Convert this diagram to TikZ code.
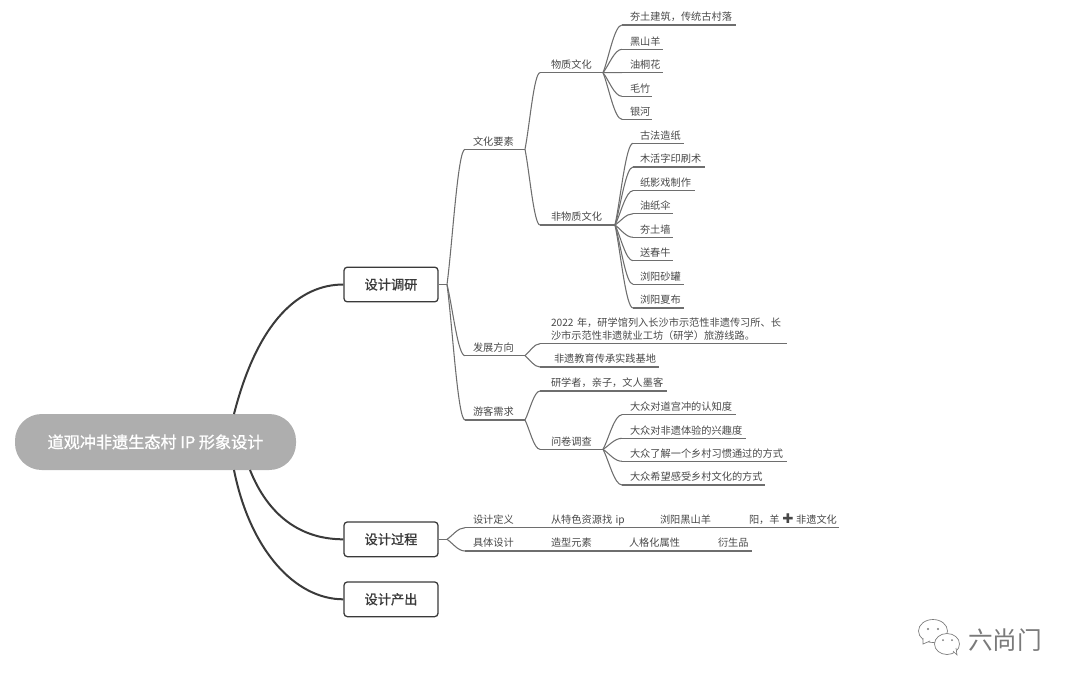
\documentclass[tikz,border=0pt]{standalone}
\usepackage{fontspec}
\setmainfont{Noto Sans CJK SC}
\newfontfamily\symfont{DejaVu Sans}
\newfontfamily\medfont[FakeBold=1.2]{Noto Sans CJK SC}
\usetikzlibrary{calc}
\definecolor{inkc}{HTML}{484848}
\definecolor{linec}{HTML}{6E6E6E}
\definecolor{darkc}{HTML}{3A3A3A}
\definecolor{rootc}{HTML}{AEAEAE}
\definecolor{markc}{HTML}{7A7A7A}
\tikzset{
  topic/.style 2 args={anchor=south west,inner sep=0pt,outer sep=0pt,
    text depth=0pt,text=inkc,font=\fontsize{7.65pt}{9.75pt}\selectfont,align=left,
    text width={#1*0.75pt},
    inner ysep=3.2pt,
    execute at begin node={\hspace*{\dimexpr #2pt*3/4\relax}},
  },
  branch/.style={draw=linec,line width=0.8pt},
  curved/.style={branch,to path={.. controls ($(\tikztostart)!0.3!(\tikztotarget)$) and ($(\tikztostart |- \tikztotarget)!0.6!(\tikztotarget)$) .. (\tikztotarget)}},
  mainbox/.style={draw=darkc,line width=0.95pt,rounded corners=2.5pt,fill=white,
    minimum width=70.5pt,minimum height=26pt,inner sep=0pt,text=darkc,
    font=\fontsize{9.9pt}{12pt}\medfont},
  rootnode/.style={fill=rootc,rounded corners=20pt,minimum width=210.75pt,minimum height=42pt,
    inner sep=0pt,text=white,font=\fontsize{12.1pt}{14pt}\medfont},
  thick branch/.style={draw=darkc,line width=1.5pt},
  wechat/.style={draw=markc,line width=0.5pt,fill=white},
}
\begin{document}
\begin{tikzpicture}[x=0.75pt,y=-0.75pt]
\useasboundingbox (0,0) rectangle (1079,687);
% root and main boxes
\node[rootnode] (root) at (155.5,442) {道观冲非遗生态村 IP 形象设计};
\node[mainbox] (d1) at (391,284.5) {设计调研};
\node[mainbox] (d2) at (391,539.3) {设计过程};
\node[mainbox] (d3) at (391,599.3) {设计产出};
\coordinate (r1) at (234,414);
\coordinate (r2) at (250,470);
\coordinate (r3) at (234,470);
\draw[thick branch] (r1) .. controls (258,320) and (300,284.5) .. (d1.west);
\draw[thick branch] (r2) .. controls (268,515) and (300,539.3) .. (d2.west);
\draw[thick branch] (r3) .. controls (250,550) and (295,599.3) .. (d3.west);
\coordinate (j1) at (447,284.5);
\coordinate (j2) at (447,539.3);
\draw[branch] (d1.east) -- (j1);
\draw[branch] (d2.east) -- (j2);
% level 2 under d1
\node[topic={60}{8}] (a1) at (465,149.3) {文化要素};
\node[topic={60}{8}] (a2) at (465,355.7) {发展方向};
\node[topic={60}{8}] (a3) at (465,420) {游客需求};
% culture
\node[topic={63}{11}] (b1) at (540,72.7) {物质文化};
\node[topic={75}{11}] (b2) at (540,225) {非物质文化};
\node[topic={114}{8}] (c1) at (622,25) {夯土建筑，传统古村落};
\node[topic={41}{8}] (c2) at (622,49.3) {黑山羊};
\node[topic={41}{8}] (c3) at (622,72.7) {油桐花};
\node[topic={30}{8}] (c4) at (622,96.3) {毛竹};
\node[topic={30}{8}] (c5) at (622,119.3) {银河};
\node[topic={51}{7}] (e1) at (633,143.3) {古法造纸};
\node[topic={72}{7}] (e2) at (633,167) {木活字印刷术};
\node[topic={62}{7}] (e3) at (633,190.7) {纸影戏制作};
\node[topic={40}{7}] (e4) at (633,213.7) {油纸伞};
\node[topic={40}{7}] (e5) at (633,237.3) {夯土墙};
\node[topic={40}{7}] (e6) at (633,260.7) {送春牛};
\node[topic={51}{7}] (e7) at (633,284.3) {浏阳砂罐};
\node[topic={51}{7}] (e8) at (633,308) {浏阳夏布};
% direction
\node[topic={247}{11},text depth=9.75pt] (f1) at (540,343.7) {2022 年，研学馆列入长沙市示范性非遗传习所、长\\\hspace*{8.25pt}沙市示范性非遗就业工坊（研学）旅游线路。};
\node[topic={119}{14}] (f2) at (540,367) {非遗教育传承实践基地};
% visitors
\node[topic={127}{11}] (g1) at (540,391) {研学者，亲子，文人墨客};
\node[topic={63}{11}] (g2) at (540,449.3) {问卷调查};
\node[topic={114}{8}] (h1) at (622,414.7) {大众对道宫冲的认知度};
\node[topic={124}{8}] (h2) at (622,438.3) {大众对非遗体验的兴趣度};
\node[topic={165}{8}] (h3) at (622,461.3) {大众了解一个乡村习惯通过的方式};
\node[topic={143}{8}] (h4) at (622,485) {大众希望感受乡村文化的方式};
% design process rows
\node[topic={75}{8}] (p1) at (465,527.7) {设计定义};
\node[topic={109}{11}] (p2) at (540,527.7) {从特色资源找 ip};
\node[topic={89}{11}] (p3) at (649,527.7) {浏阳黑山羊};
\node[topic={101}{11}] (p4) at (738,527.7) {阳，羊\hspace{2pt}{\symfont\fontsize{10pt}{10pt}\selectfont ✚}\hspace{2pt}非遗文化};
\node[topic={75}{8}] (q1) at (465,551) {具体设计};
\node[topic={78}{11}] (q2) at (540,551) {造型元素};
\node[topic={89}{11}] (q3) at (618,551) {人格化属性};
\node[topic={45}{11}] (q4) at (707,551) {衍生品};
% underlines
\foreach \n in {a1,a2,a3,b1,b2,c1,c2,c3,c4,c5,e1,e2,e3,e4,e5,e6,e7,e8,f1,f2,g1,g2,h1,h2,h3,h4}
  \draw[branch] (\n.south west) -- (\n.south east);
\draw[branch] (p1.south west) -- (p2.south west) -- (p3.south west) -- (p4.south west) -- (p4.south east);
\draw[branch] (q1.south west) -- (q2.south west) -- (q3.south west) -- (q4.south west) -- (q4.south east);
% connectors
\foreach \n in {a1,a2,a3} \draw[curved] (j1) to (\n.south west);
\foreach \n in {b1,b2} \draw[curved] (a1.south east) to (\n.south west);
\foreach \n in {c1,c2,c3,c4,c5} \draw[curved] (b1.south east) to (\n.south west);
\foreach \n in {e1,e2,e3,e4,e5,e6,e7,e8} \draw[curved] (b2.south east) to (\n.south west);
\foreach \n in {f1,f2} \draw[curved] (a2.south east) to (\n.south west);
\foreach \n in {g1,g2} \draw[curved] (a3.south east) to (\n.south west);
\foreach \n in {h1,h2,h3,h4} \draw[curved] (g2.south east) to (\n.south west);
\foreach \n in {p1,q1} \draw[curved] (j2) to (\n.south west);
% watermark
\filldraw[wechat] (933,631) ellipse [x radius=14.5,y radius=11.5];
\draw[wechat] (923,638) -- (923,644) -- (930,641);
\fill[markc] (928,629) circle (1.1);
\fill[markc] (938,629) circle (1.1);
\filldraw[wechat] (947,644) ellipse [x radius=12.5,y radius=10.5];
\draw[wechat,fill=white] (953,651) -- (957,655) -- (956,648);
\fill[markc] (943,640) circle (1);
\fill[markc] (952,640) circle (1);
\node[text=markc,font=\fontsize{18.5pt}{20pt}\selectfont,inner sep=0pt] (wm) at (1005,640) {六尚门};
\end{tikzpicture}
\end{document}
